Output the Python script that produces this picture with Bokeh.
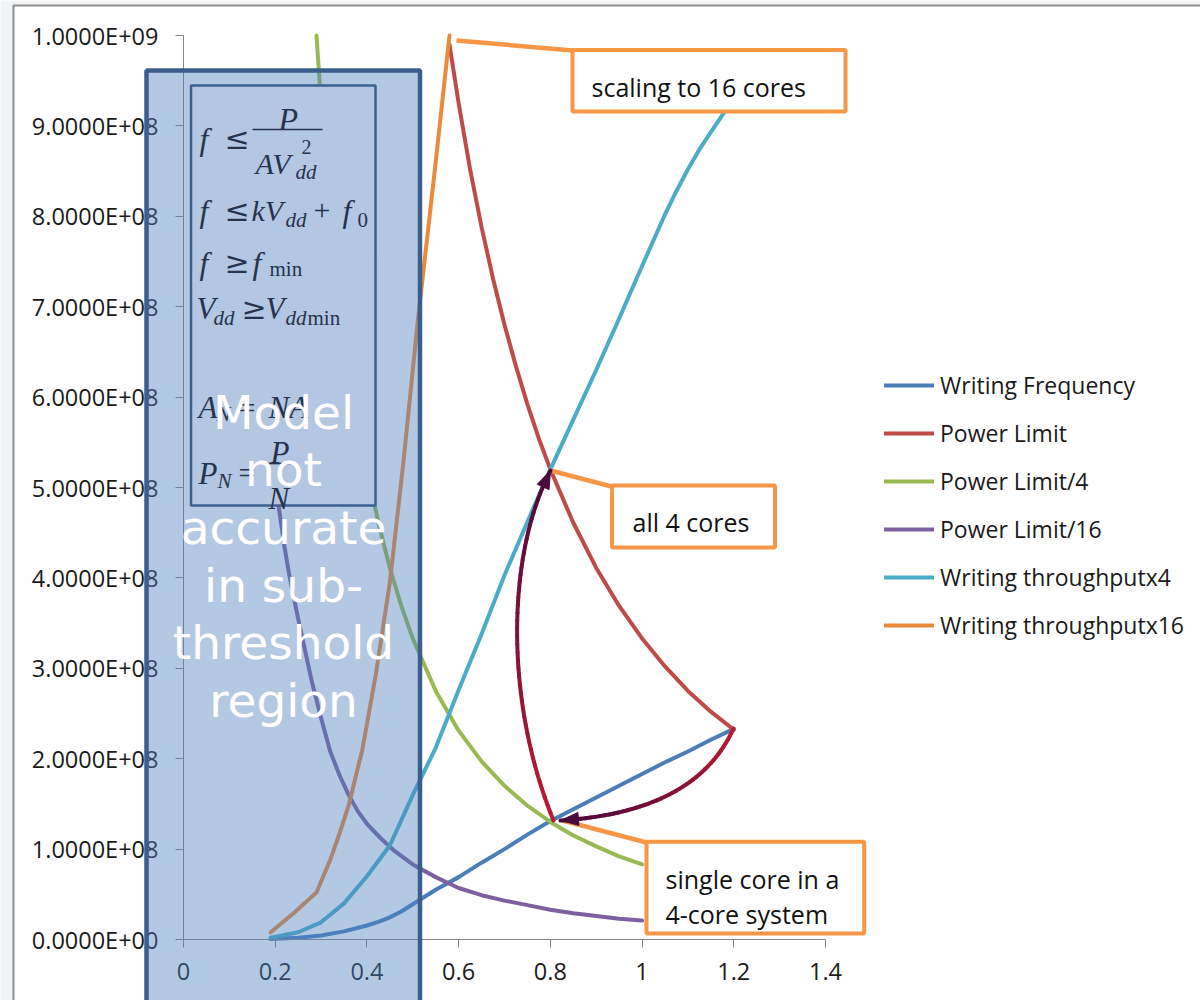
import numpy as np
from bokeh.plotting import figure
from bokeh.models import (Range1d, FixedTicker, CustomJSTickFormatter, BoxAnnotation,
                          Label, Legend, LegendItem, LinearAxis)
from bokeh.embed import file_html
from bokeh.resources import INLINE

# ---------------- data ----------------
x_ticks = [0, 0.2, 0.4, 0.6, 0.8, 1.0, 1.2, 1.4]
y_ticks = [0, 1e8, 2e8, 3e8, 4e8, 5e8, 6e8, 7e8, 8e8, 9e8, 1e9]

vdd_wf = [0.19, 0.25, 0.30, 0.35, 0.40, 0.425, 0.45, 0.475, 0.50, 0.525, 0.55, 0.60, 0.65,
          0.70, 0.75, 0.80, 0.85, 0.90, 0.95, 1.00, 1.05, 1.10, 1.15, 1.20]
writing_frequency = [0.005e8, 0.02e8, 0.045e8, 0.09e8, 0.155e8, 0.195e8, 0.245e8, 0.31e8,
                     0.39e8, 0.47e8, 0.55e8, 0.69e8, 0.85e8, 1.0e8, 1.16e8, 1.31e8, 1.44e8,
                     1.57e8, 1.70e8, 1.83e8, 1.96e8, 2.08e8, 2.21e8, 2.33e8]

vdd_pl = [0.58, 0.60, 0.625, 0.65, 0.675, 0.70, 0.725, 0.75, 0.775, 0.80, 0.85, 0.90, 0.95,
          1.00, 1.05, 1.10, 1.15, 1.20]
power_limit = [9.9e8, 9.25e8, 8.52e8, 7.88e8, 7.31e8, 6.8e8, 6.34e8, 5.92e8, 5.54e8, 5.2e8,
               4.61e8, 4.11e8, 3.69e8, 3.33e8, 3.02e8, 2.75e8, 2.52e8, 2.32e8]

vdd_pl4 = [0.29, 0.30, 0.31, 0.325, 0.34, 0.36, 0.38, 0.40, 0.425, 0.45, 0.475, 0.50, 0.55,
           0.60, 0.65, 0.70, 0.75, 0.80, 0.85, 0.90, 0.95, 1.00]
power_limit_4 = [10.0e8, 9.25e8, 8.66e8, 7.88e8, 7.2e8, 6.42e8, 5.77e8, 5.2e8, 4.61e8,
                 4.11e8, 3.69e8, 3.33e8, 2.75e8, 2.31e8, 1.97e8, 1.70e8, 1.48e8, 1.30e8,
                 1.15e8, 1.03e8, 0.92e8, 0.83e8]

vdd_pl16 = [0.19, 0.20, 0.21, 0.22, 0.23, 0.24, 0.25, 0.265, 0.28, 0.30, 0.32, 0.34, 0.36,
            0.38, 0.40, 0.43, 0.46, 0.50, 0.55, 0.60, 0.65, 0.70, 0.75, 0.80, 0.85, 0.90,
            0.95, 1.00]
power_limit_16 = [5.6e8, 5.1e8, 4.7e8, 4.35e8, 4.05e8, 3.8e8, 3.55e8, 3.2e8, 2.85e8, 2.45e8,
                  2.08e8, 1.82e8, 1.6e8, 1.42e8, 1.28e8, 1.12e8, 0.98e8, 0.83e8, 0.69e8,
                  0.57e8, 0.49e8, 0.43e8, 0.38e8, 0.33e8, 0.29e8, 0.26e8, 0.23e8, 0.21e8]

vdd_t4 = [0.19, 0.25, 0.30, 0.35, 0.40, 0.45, 0.50, 0.55, 0.60, 0.65, 0.70, 0.75, 0.80,
          0.85, 0.90, 0.95, 1.00, 1.05, 1.075, 1.10, 1.125, 1.15, 1.175, 1.20]
throughput_x4 = [0.02e8, 0.08e8, 0.19e8, 0.40e8, 0.70e8, 1.04e8, 1.6e8, 2.12e8, 2.76e8,
                 3.38e8, 4.03e8, 4.62e8, 5.2e8, 5.75e8, 6.3e8, 6.87e8, 7.45e8, 8.02e8,
                 8.28e8, 8.52e8, 8.74e8, 8.93e8, 9.12e8, 9.3e8]

vdd_t16 = [0.19, 0.24, 0.29, 0.32, 0.34, 0.36, 0.39, 0.42, 0.45, 0.48, 0.51, 0.55, 0.58]
throughput_x16 = [0.08e8, 0.29e8, 0.52e8, 0.88e8, 1.17e8, 1.48e8, 2.1e8, 2.95e8, 3.95e8,
                  5.3e8, 6.8e8, 8.6e8, 10.0e8]

series_names = ["Writing Frequency", "Power Limit", "Power Limit/4", "Power Limit/16",
                "Writing throughputx4", "Writing throughputx16"]
series_colors = ["#4A7EBB", "#BE4B48", "#98B954", "#7D60A0", "#4BACC6", "#EB8A3A"]

# ---------------- layout helpers (canvas pixel -> data) ----------------
W, H = 1200, 1000
FL, FR, FT, FB = 183, 825, 35, 939
def dx(px):
    return (np.asarray(px, dtype=float) - FL) / (FR - FL) * 1.4
def dy(py):
    return (FB - np.asarray(py, dtype=float)) / (FB - FT) * 1e9

p = figure(width=W, height=H, output_backend="svg", toolbar_location=None,
           x_range=Range1d(float(dx(0)), float(dx(W))),
           y_range=Range1d(float(dy(H)), float(dy(0))),
           x_axis_location=None, y_axis_location=None,
           min_border=0, min_border_left=0, min_border_right=0,
           min_border_top=0, min_border_bottom=0)
p.outline_line_color = None
p.background_fill_color = "#f2f3f5"
p.border_fill_color = "#f2f3f5"
p.grid.visible = False

# chart area (white with grey edge)
p.add_layout(BoxAnnotation(left=dx(13), right=dx(W + 50), top=dy(5), bottom=dy(H + 50),
                           fill_color="white", fill_alpha=1.0, line_color="#8e8e8e",
                           line_alpha=1.0, line_width=2, level="underlay"))

# horizontal grid lines at the y ticks
p.segment(x0=[0] * len(y_ticks), y0=y_ticks, x1=[1.4] * len(y_ticks), y1=y_ticks,
          line_color="#868686", line_width=1, level="underlay")

fmt_x = CustomJSTickFormatter(code="return (Math.round(tick*10)/10).toString();")
fmt_y = CustomJSTickFormatter(code="""
const s = tick.toExponential(4).split('e');
let e = parseInt(s[1]);
const sg = e < 0 ? '-' : '+';
e = Math.abs(e);
return s[0] + 'E' + sg + (e < 10 ? '0' + e : '' + e);
""")
xaxis = LinearAxis(fixed_location=0, bounds=(0, 1.4), ticker=FixedTicker(ticks=x_ticks),
                   formatter=fmt_x)
yaxis = LinearAxis(fixed_location=0, bounds=(0, 1e9), ticker=FixedTicker(ticks=y_ticks),
                   formatter=fmt_y)
for ax in (xaxis, yaxis):
    ax.axis_line_color = "#868686"
    ax.major_tick_line_color = "#868686"
    ax.minor_tick_line_color = None
    ax.major_tick_in = 0
    ax.major_tick_out = 8
    ax.major_label_text_font = "Open Sans"
    ax.major_label_text_font_size = "23.5px"
    ax.major_label_text_color = "#1a1a1a"
yaxis.major_label_standoff = 17
xaxis.major_label_standoff = 15
p.add_layout(xaxis, "below")
p.add_layout(yaxis, "left")

# ---------------- series ----------------
xs_all = [vdd_wf, vdd_pl, vdd_pl4, vdd_pl16, vdd_t4, vdd_t16]
ys_all = [writing_frequency, power_limit, power_limit_4, power_limit_16,
          throughput_x4, throughput_x16]
renderers = []
for xv, yv, c in zip(xs_all, ys_all, series_colors):
    r = p.line(xv, yv, line_color=c, line_width=4, line_join="round", line_cap="round")
    renderers.append(r)

# ---------------- callout leader lines ----------------
lead_x0 = [456, 550, 562]; lead_y0 = [40, 470, 820]
lead_x1 = [572, 611, 646]; lead_y1 = [50, 486, 842]
p.segment(x0=dx(lead_x0), y0=dy(lead_y0), x1=dx(lead_x1), y1=dy(lead_y1),
          line_color="#F79646", line_width=4.5)

# ---------------- curved gradient arrows ----------------
def bez(P0, P1, P2, P3, n=48):
    t = np.linspace(0, 1, n)[:, None]
    P0, P1, P2, P3 = map(np.asarray, (P0, P1, P2, P3))
    return ((1 - t) ** 3) * P0 + 3 * ((1 - t) ** 2) * t * P1 + 3 * (1 - t) * t ** 2 * P2 + t ** 3 * P3

c_start = np.array([188, 28, 52]); c_end = np.array([72, 8, 60])
def draw_arrow(P0, P1, P2, P3):
    pts = bez(P0, P1, P2, P3)
    n = len(pts) - 1
    cols = []
    for i in range(n):
        f = (i + 0.5) / n
        c = (c_start * (1 - f) + c_end * f).astype(int)
        cols.append("#%02x%02x%02x" % tuple(c))
    p.segment(x0=dx(pts[:-1, 0]), y0=dy(pts[:-1, 1]), x1=dx(pts[1:, 0]), y1=dy(pts[1:, 1]),
              line_color=cols, line_width=4, line_cap="round")
    tip = pts[-1]
    d = tip - pts[-5]
    u = d / np.hypot(*d)
    nrm = np.array([-u[1], u[0]])
    base = tip - 18 * u
    tri = np.array([tip, base + 6.5 * nrm, base - 6.5 * nrm])
    p.patch(dx(tri[:, 0]), dy(tri[:, 1]), fill_color="#480a3c", line_color="#480a3c", line_width=1)

draw_arrow((733, 728), (705, 790), (640, 815), (560, 820))
draw_arrow((553, 820), (504, 700), (506, 555), (550, 470))

# ---------------- shaded region + equations box ----------------
p.add_layout(BoxAnnotation(left=dx(146), right=dx(419.5), top=dy(70), bottom=dy(H + 30),
                           fill_color="#4F81BD", fill_alpha=0.43,
                           line_color="#3B5E8D", line_alpha=1.0, line_width=4.5))
p.add_layout(BoxAnnotation(left=dx(190.5), right=dx(375), top=dy(85), bottom=dy(505),
                           fill_color="#B3C7E3", fill_alpha=1.0,
                           line_color="#3E6091", line_alpha=1.0, line_width=2.5))

EQ_COLOR = "#27334b"
REL = "rel"
eq_pieces = [
    # text, left px, baseline px, size, style
    ("f", 199, 138, 32, "i"), ("≤", 224, 138, 30, REL),
    ("P", 278, 118, 32, "i"), ("AV", 255, 163, 30, "i"),
    ("2", 301, 146, 20, "n"), ("dd", 295, 171, 21, "i"),
    ("f", 199, 210, 32, "i"), ("≤", 224, 210, 30, REL), ("kV", 251, 210, 30, "i"),
    ("dd", 285, 219, 21, "i"), ("+", 313, 210, 30, "n"), ("f", 342, 210, 32, "i"),
    ("0", 357, 219, 21, "n"),
    ("f", 199, 262, 32, "i"), ("≥", 224, 262, 30, REL), ("f", 252, 262, 32, "i"),
    ("min", 269, 268, 21, "n"),
    ("V", 196, 308, 31, "i"), ("dd", 213, 317, 21, "i"), ("≥", 241, 308, 30, REL),
    ("V", 265, 308, 31, "i"), ("dd", 285, 317, 21, "i"), ("min", 307, 317, 21, "n"),
    ("A", 198, 407, 31, "i"), ("N", 216, 413, 21, "i"), ("=", 238, 407, 30, "n"),
    ("NA", 268, 407, 31, "i"),
    ("P", 198, 473, 31, "i"), ("N", 217, 480, 21, "i"), ("=", 238, 472, 30, "n"),
    ("P", 270, 452, 31, "i"), ("N", 268, 498, 31, "i"),
]
for txt, lx, by, sz, st in eq_pieces:
    p.add_layout(Label(x=float(dx(lx)), y=float(dy(by)), text=txt,
                       text_font="DejaVu Serif" if st == REL else "Liberation Serif",
                       text_font_size=f"{sz}px", text_font_style="italic" if st == "i" else "normal",
                       text_color=EQ_COLOR, text_align="left", text_baseline="alphabetic"))
for l, r, yb in [(252, 322, 129), (263, 293, 463)]:
    p.add_layout(BoxAnnotation(left=dx(l), right=dx(r), top=dy(yb - 0.8), bottom=dy(yb + 0.8),
                               fill_color=EQ_COLOR, fill_alpha=1, line_color=None))

region_lines = ["Model", "not", "accurate", "in sub-", "threshold", "region"]
region_base = [412, 469, 527, 585, 642, 700]
for txt, by in zip(region_lines, region_base):
    p.add_layout(Label(x=float(dx(283)), y=float(dy(by)), text=txt, text_font="DejaVu Sans",
                       text_font_size="47px", text_color="white", text_align="center",
                       text_baseline="alphabetic"))

# ---------------- callout boxes ----------------
for l, t, r, b in [(572, 49.5, 845, 111), (611.5, 485, 774.5, 547), (646, 841.3, 863.7, 933)]:
    p.add_layout(BoxAnnotation(left=dx(l), right=dx(r), top=dy(t), bottom=dy(b),
                               fill_color="white", fill_alpha=1.0,
                               line_color="#F79646", line_alpha=1.0, line_width=4))
for txt, lx, by in [("scaling to 16 cores", 591, 86), ("all 4 cores", 632, 521),
                    ("single core in a", 665, 878), ("4-core system", 665, 913)]:
    p.add_layout(Label(x=float(dx(lx)), y=float(dy(by)), text=txt, text_font="Open Sans",
                       text_font_size="25px", text_color="#111111", text_align="left",
                       text_baseline="alphabetic"))

# ---------------- legend ----------------
items = [LegendItem(label=n, renderers=[r]) for n, r in zip(series_names, renderers)]
legend = Legend(items=items, location=(884, H - 641), orientation="vertical",
                padding=0, margin=0, spacing=16, glyph_height=32, glyph_width=50,
                label_height=32, label_standoff=6, border_line_alpha=0,
                background_fill_alpha=0, label_text_font="Open Sans",
                label_text_font_size="23px", label_text_color="#1a1a1a")
p.add_layout(legend)

open("out.html", "w").write(file_html(p, INLINE))
